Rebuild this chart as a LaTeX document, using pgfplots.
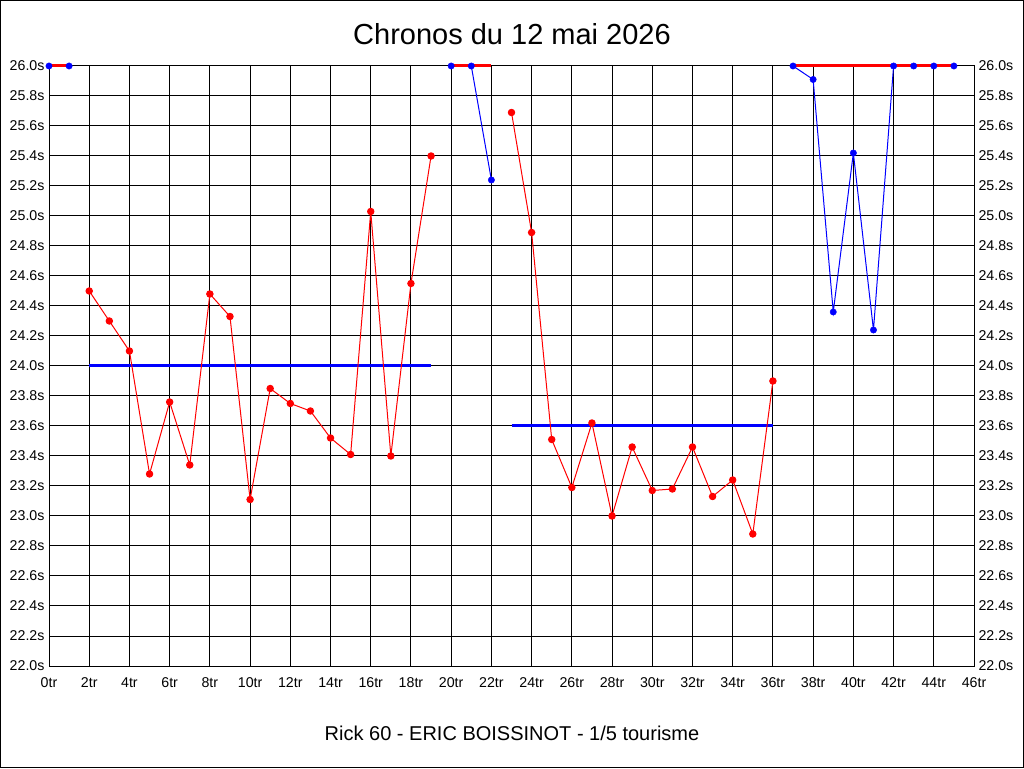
\documentclass[border=0pt]{standalone}
\usepackage{pgfplots}
\pgfplotsset{compat=1.18}
\usepackage{fontspec}
\setmainfont{Liberation Sans}
\definecolor{pr}{RGB}{255,0,0}
\definecolor{pb}{RGB}{0,0,255}
\begin{document}
\begin{tikzpicture}
\draw[line width=1pt] (0.5pt,0.5pt) rectangle (1023.5pt,767.5pt);
\begin{axis}[
  at={(49pt,102pt)}, anchor=south west,
  scale only axis, width=925pt, height=600pt,
  xmin=0, xmax=46, ymin=22, ymax=26,
  xtick={0,2,...,46},
  ytick={22,22.2,...,26.01},
  grid=major,
  grid style={black, line width=1pt},
  axis line style={black, line width=1pt},
  major tick length=0pt,
  clip=false,
  /pgf/number format/assume math mode=true,
  xticklabel={\pgfmathprintnumber[fixed,precision=0]{\tick}tr},
  yticklabel={\pgfmathprintnumber[fixed,fixed zerofill,precision=1]{\tick}s},
  ticklabel style={font=\fontsize{14.2}{16}\selectfont},
  xticklabel style={yshift=-8pt},
  yticklabel style={xshift=-1pt},
]
% blue series lines
\addplot[pb, line width=1pt] coordinates {(0,26) (1,26)};
\addplot[pb, line width=1pt] coordinates {(20,26) (21,26) (22,25.24)};
\addplot[pb, line width=1pt] coordinates {(37,26) (38,25.91) (39,24.36) (40,25.42) (41,24.24) (42,26) (43,26) (44,26) (45,26)};
% red clip lines
\addplot[pr, line width=3pt] coordinates {(0,26) (1,26)};
\addplot[pr, line width=3pt] coordinates {(20,26) (22,26)};
\addplot[pr, line width=3pt] coordinates {(37,26) (45,26)};
% blue marks
\addplot[only marks, mark=*, mark size=3.2pt, pb] coordinates {(0,26) (1,26) (20,26) (21,26) (22,25.24) (37,26) (38,25.91) (39,24.36) (40,25.42) (41,24.24) (42,26) (43,26) (44,26) (45,26)};
% average lines
\addplot[pb, line width=3pt] coordinates {(2,24.0) (19,24.0)};
\addplot[pb, line width=3pt] coordinates {(23,23.6) (36,23.6)};
% red lap times
\addplot[pr, line width=1pt, mark=*, mark size=3.2pt, mark options={fill=pr, draw=pr}] coordinates {
(2,24.50) (3,24.30) (4,24.10) (5,23.28) (6,23.76) (7,23.34) (8,24.48) (9,24.33) (10,23.11) (11,23.85) (12,23.75) (13,23.70) (14,23.52) (15,23.41) (16,25.03) (17,23.40) (18,24.55) (19,25.40)};
\addplot[pr, line width=1pt, mark=*, mark size=3.2pt, mark options={fill=pr, draw=pr}] coordinates {
(23,25.69) (24,24.89) (25,23.51) (26,23.19) (27,23.62) (28,23.00) (29,23.46) (30,23.17) (31,23.18) (32,23.46) (33,23.13) (34,23.24) (35,22.88) (36,23.90)};
\end{axis}
\begin{axis}[
  at={(49pt,102pt)}, anchor=south west,
  scale only axis, width=925pt, height=600pt,
  xmin=0, xmax=46, ymin=22, ymax=26,
  axis x line=none, axis y line*=right,
  axis line style={draw=none},
  ytick={22,22.2,...,26.01},
  major tick length=0pt,
  /pgf/number format/assume math mode=true,
  yticklabel={\pgfmathprintnumber[fixed,fixed zerofill,precision=1]{\tick}s},
  ticklabel style={font=\fontsize{14.2}{16}\selectfont},
  yticklabel style={xshift=1pt},
]
\addplot[draw=none] coordinates {(0,22)};
\end{axis}
\node at (512pt,734pt) {\fontsize{29}{33}\selectfont Chronos du 12 mai 2026};
\node at (512pt,35pt) {\fontsize{20}{24}\selectfont Rick 60 - ERIC BOISSINOT - 1/5 tourisme};
\end{tikzpicture}
\end{document}
